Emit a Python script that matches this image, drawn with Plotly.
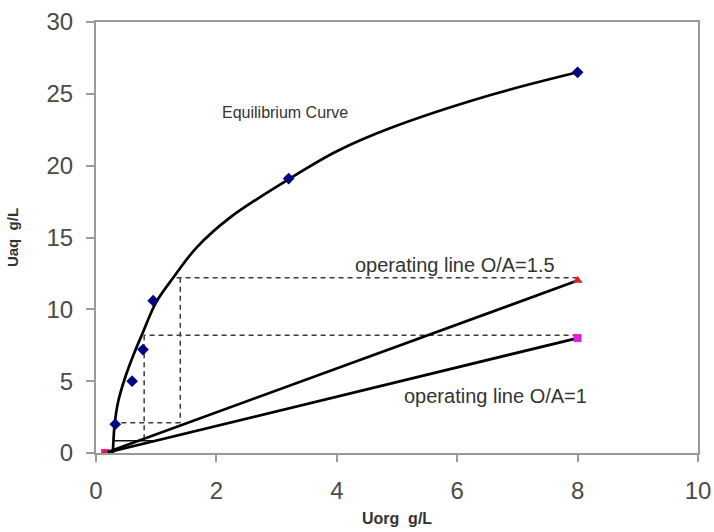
import plotly.graph_objects as go

# Equilibrium data points (Uorg, Uaq in g/L)
eq_x = [0.32, 0.60, 0.78, 0.95, 3.2, 8.0]
eq_y = [2.0, 5.0, 7.2, 10.6, 19.1, 26.5]

# Smoothed equilibrium curve
curve_x = [0.28, 0.31, 0.37, 0.48, 0.62, 0.78, 1.0, 1.3, 1.67, 2.23, 3.22, 4.0, 4.88, 6.54, 8.0]
curve_y = [0.0, 2.0, 3.6, 5.2, 6.8, 8.4, 10.5, 12.3, 14.3, 16.4, 19.1, 21.0, 22.6, 24.9, 26.5]

# Operating lines
op_x = [0.15, 8.0]
op15_y = [0.0, 12.0]
op10_y = [0.0, 8.0]

# Stage construction (dashed)
stage15_x = [8.0, 1.3, None, 1.4, 1.4, None, 1.4, 0.32]
stage15_y = [12.2, 12.2, None, 12.2, 2.1, None, 2.1, 2.1]
stage10_x = [8.0, 0.8, None, 0.8, 0.8]
stage10_y = [8.2, 8.2, None, 8.2, 0.85]
step_x = [0.3, 1.0]
step_y = [0.85, 0.85]

x_ticks = [0, 2, 4, 6, 8, 10]
y_ticks = [0, 5, 10, 15, 20, 25, 30]

FONT = "Arial, Liberation Sans, sans-serif"

fig = go.Figure()

fig.add_trace(go.Scatter(x=stage15_x, y=stage15_y, mode="lines",
                         line=dict(color="#3a3a3a", width=1.5, dash="5px,4px"),
                         showlegend=False, hoverinfo="skip"))
fig.add_trace(go.Scatter(x=stage10_x, y=stage10_y, mode="lines",
                         line=dict(color="#3a3a3a", width=1.5, dash="5px,4px"),
                         showlegend=False, hoverinfo="skip"))
fig.add_trace(go.Scatter(x=step_x, y=step_y, mode="lines",
                         line=dict(color="#111111", width=1.5),
                         showlegend=False, hoverinfo="skip"))

fig.add_trace(go.Scatter(x=curve_x, y=curve_y, mode="lines",
                         line=dict(color="black", width=2.7, shape="spline", smoothing=1.0),
                         showlegend=False))

fig.add_trace(go.Scatter(x=op_x, y=op10_y, mode="lines+markers",
                         line=dict(color="black", width=2.7),
                         marker=dict(symbol="square", size=8, color="#e020e0"),
                         showlegend=False))
fig.add_trace(go.Scatter(x=op_x, y=op15_y, mode="lines+markers",
                         line=dict(color="black", width=2.7),
                         marker=dict(symbol="triangle-up", size=9, color="#e0201c"),
                         showlegend=False))

fig.add_trace(go.Scatter(x=eq_x, y=eq_y, mode="markers",
                         marker=dict(symbol="diamond", size=9, color="#000080"),
                         showlegend=False))

fig.add_annotation(x=3.14, y=23.7, text="Equilibrium Curve", showarrow=False,
                   font=dict(family=FONT, size=16, color="#333333"))
fig.add_annotation(x=5.96, y=13.1, text="operating line O/A=1.5", showarrow=False,
                   font=dict(family=FONT, size=20, color="#333333"))
fig.add_annotation(x=6.64, y=4.0, text="operating line O/A=1", showarrow=False,
                   font=dict(family=FONT, size=20, color="#333333"))

fig.update_xaxes(range=[0, 10], tickvals=x_ticks, ticktext=[str(v) for v in x_ticks],
                 showgrid=False, zeroline=False, showline=True, mirror=True,
                 linecolor="#9a9a9a", linewidth=2, ticks="outside", ticklen=7,
                 tickcolor="#9a9a9a", tickwidth=2, ticklabelstandoff=8,
                 automargin=False,
                 tickfont=dict(family=FONT, size=24, color="#4a4a4a"),
                 title=dict(text="<b>Uorg  g/L</b>", standoff=10,
                            font=dict(family=FONT, size=16, color="#333333")))
fig.update_yaxes(range=[0, 30], tickvals=y_ticks, ticktext=[str(v) for v in y_ticks],
                 showgrid=False, zeroline=False, showline=True, mirror=True,
                 linecolor="#9a9a9a", linewidth=2, ticks="outside", ticklen=8,
                 tickcolor="#9a9a9a", tickwidth=2, ticklabelstandoff=8,
                 automargin=False,
                 tickfont=dict(family=FONT, size=24, color="#4a4a4a"),
                 title=dict(text="<b>Uaq  g/L</b>", standoff=24,
                            font=dict(family=FONT, size=15, color="#333333")))

fig.update_layout(width=714, height=532, plot_bgcolor="white", paper_bgcolor="white",
                  margin=dict(l=96, r=16, t=22, b=79), showlegend=False)

fig.write_html("out.html")
